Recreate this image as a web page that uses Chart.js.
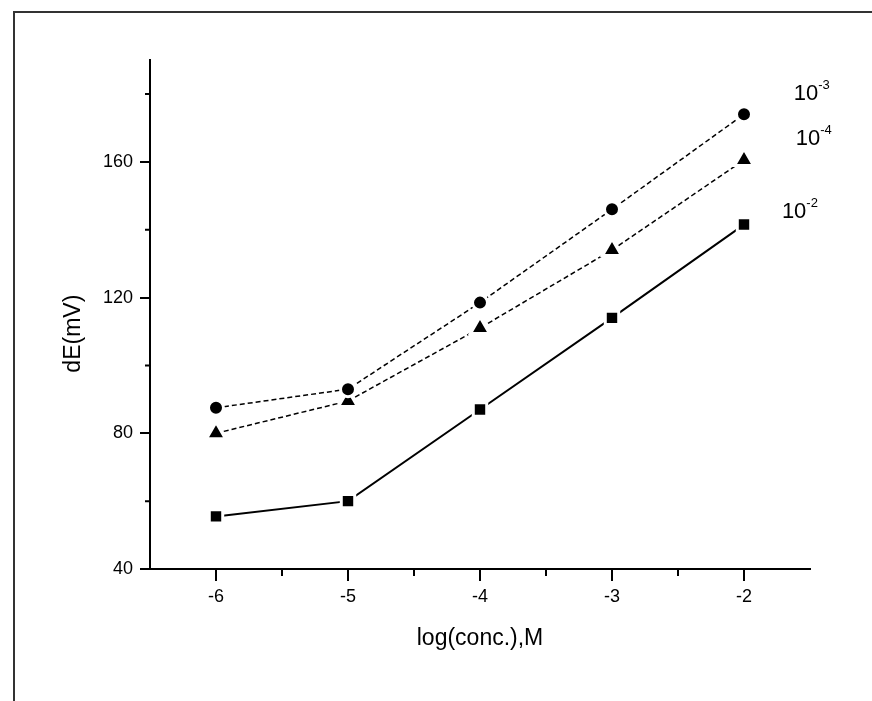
<!DOCTYPE html>
<html>
<head>
<meta charset="utf-8">
<script src="https://cdn.jsdelivr.net/npm/chart.js@4.4.1/dist/chart.umd.min.js"></script>
<style>
  html, body { margin: 0; padding: 0; background: #fff; }
  #wrap { position: relative; width: 872px; height: 701px; }
  #frame { position: absolute; left: 13px; top: 11px; right: 0; bottom: 0; border-left: 2px solid #333; border-top: 2px solid #333; pointer-events: none; }
</style>
</head>
<body>
<div id="wrap">
  <canvas id="chart" width="872" height="701"></canvas>
  <div id="frame"></div>
</div>
<script>
const logConc = [-6, -5, -4, -3, -2];
const dE_1e3 = [87.5, 93, 118.5, 146, 174];
const dE_1e4 = [80, 89.5, 111, 134, 160.5];
const dE_1e2 = [55.5, 60, 87, 114, 141.5];

const xTicks = [-6, -5, -4, -3, -2];
const xMinor = [-5.5, -4.5, -3.5, -2.5];
const yTicks = [40, 80, 120, 160];
const yMinor = [60, 100, 140, 180];

const seriesLabels = [
  { base: '10', exp: '-3', x: -1.623, y: 178.2 },
  { base: '10', exp: '-4', x: -1.608, y: 165 },
  { base: '10', exp: '-2', x: -1.713, y: 143.4 }
];

const font = "'Liberation Sans', Arial, sans-serif";

function toPoints(ys) {
  return logConc.map((x, i) => ({ x: x, y: ys[i] }));
}

// short minor ticks on both axes + the 10^n series labels
const extras = {
  id: 'extras',
  afterDraw(chart) {
    const ctx = chart.ctx;
    const xs = chart.scales.x, ys = chart.scales.y;
    const area = chart.chartArea;
    ctx.save();
    ctx.strokeStyle = '#000';
    ctx.lineWidth = 2;
    ctx.beginPath();
    xMinor.forEach(v => {
      const px = xs.getPixelForValue(v);
      ctx.moveTo(px, area.bottom);
      ctx.lineTo(px, area.bottom + 7);
    });
    yMinor.forEach(v => {
      const py = ys.getPixelForValue(v);
      ctx.moveTo(area.left, py);
      ctx.lineTo(area.left - 5, py);
    });
    ctx.stroke();

    ctx.fillStyle = '#000';
    ctx.textBaseline = 'alphabetic';
    ctx.textAlign = 'left';
    seriesLabels.forEach(l => {
      const px = xs.getPixelForValue(l.x);
      const py = ys.getPixelForValue(l.y);
      ctx.font = "22px " + font;
      ctx.fillText(l.base, px, py);
      const w = ctx.measureText(l.base).width;
      ctx.font = "13px " + font;
      ctx.fillText(l.exp, px + w, py - 11);
    });
    ctx.restore();
  }
};

new Chart(document.getElementById('chart'), {
  type: 'line',
  data: {
    datasets: [
      {
        label: '10-3',
        data: toPoints(dE_1e3),
        borderColor: '#000',
        borderWidth: 1.5,
        borderDash: [5, 3],
        pointStyle: 'circle',
        pointRadius: 7.5,
        pointBackgroundColor: '#000',
        pointBorderColor: '#fff',
        pointBorderWidth: 3
      },
      {
        label: '10-4',
        data: toPoints(dE_1e4),
        borderColor: '#000',
        borderWidth: 1.5,
        borderDash: [5, 3],
        pointStyle: 'triangle',
        pointRadius: 11,
        pointBackgroundColor: '#000',
        pointBorderColor: '#fff',
        pointBorderWidth: 3
      },
      {
        label: '10-2',
        data: toPoints(dE_1e2),
        borderColor: '#000',
        borderWidth: 2,
        pointStyle: 'rect',
        pointRadius: 9.5,
        pointBackgroundColor: '#000',
        pointBorderColor: '#fff',
        pointBorderWidth: 3
      }
    ]
  },
  options: {
    responsive: false,
    animation: false,
    layout: { padding: { left: 0, right: 62, top: 60, bottom: 0 } },
    plugins: {
      legend: { display: false },
      tooltip: { enabled: false }
    },
    scales: {
      x: {
        type: 'linear',
        min: -6.5,
        max: -1.5,
        afterBuildTicks: s => { s.ticks = xTicks.map(v => ({ value: v })); },
        afterFit: s => { s.height = 132; s.paddingLeft = 0; s.paddingRight = 0; },
        border: { display: true, color: '#000', width: 2 },
        grid: { drawOnChartArea: false, drawTicks: true, tickLength: 12, tickColor: '#000', lineWidth: 2 },
        ticks: { color: '#000', font: { family: font, size: 18 }, padding: 5, maxRotation: 0 },
        title: { display: true, text: 'log(conc.),M', color: '#000', font: { family: font, size: 23 }, padding: { top: 0, bottom: 49 } }
      },
      y: {
        min: 40,
        max: 190,
        afterBuildTicks: s => { s.ticks = yTicks.map(v => ({ value: v })); },
        afterFit: s => { s.width = 150; s.paddingTop = 0; s.paddingBottom = 0; },
        border: { display: true, color: '#000', width: 2 },
        grid: { drawOnChartArea: false, drawTicks: true, tickLength: 10, tickColor: '#000', lineWidth: 2 },
        ticks: { color: '#000', font: { family: font, size: 18 }, padding: 7 },
        title: { display: true, text: 'dE(mV)      ', color: '#000', font: { family: font, size: 23 }, padding: { top: 60, bottom: 0 } }
      }
    }
  },
  plugins: [extras]
});
</script>
</body>
</html>
